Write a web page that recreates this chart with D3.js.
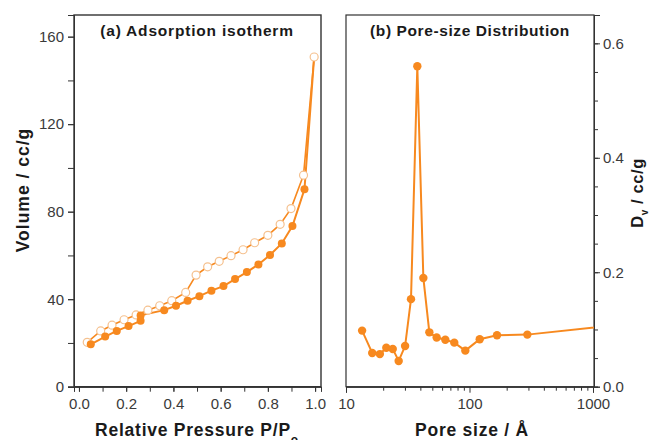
<!DOCTYPE html>
<html>
<head>
<meta charset="utf-8">
<script src="https://cdn.jsdelivr.net/npm/d3@7"></script>
<style>
  body { margin: 0; background: #fff; }
  svg { display: block; font-family: "Liberation Sans", Arial, sans-serif; }
</style>
</head>
<body>
<div id="chart"></div>
<script>
(function IFEE() {
    'use strict';
    var w = 649;
    var h = 440;

    // (a) adsorption branch (filled dots)
    var adsP = [0.05, 0.111, 0.16, 0.21, 0.261, 0.261, 0.361, 0.411, 0.46, 0.51, 0.561,
        0.612, 0.661, 0.711, 0.76, 0.809, 0.859, 0.904, 0.955, 0.996];
    var adsV = [19.4, 22.9, 25.5, 27.7, 30.1, 32.6, 35.0, 37.0, 39.3, 41.4, 43.9,
        46.0, 49.2, 52.4, 55.9, 60.2, 65.5, 73.4, 90.2, 150.7];

    // (a) desorption branch (open circles)
    var desP = [0.035, 0.092, 0.14, 0.191, 0.242, 0.292, 0.342, 0.393, 0.452, 0.496,
        0.545, 0.594, 0.644, 0.695, 0.744, 0.80, 0.852, 0.898, 0.951, 0.996];
    var desV = [20.3, 25.5, 28.1, 30.6, 32.8, 35.0, 37.0, 39.3, 43.1, 51.0,
        54.8, 57.3, 59.9, 62.6, 65.8, 69.2, 74.2, 81.4, 96.7, 150.7];

    // (b) pore size distribution
    var poreSize = [13.5, 16.3, 18.8, 21.2, 23.9, 26.7, 30.1, 33.6, 37.8, 42.3, 47.3,
        54.2, 63.7, 75.3, 92.5, 121, 167, 294, 1580];
    var poreDv = [0.098, 0.059, 0.057, 0.068, 0.066, 0.045, 0.071, 0.153, 0.560, 0.190, 0.095,
        0.086, 0.082, 0.077, 0.063, 0.083, 0.090, 0.091, 0.108];

    var xTicksA = [0, 0.2, 0.4, 0.6, 0.8, 1.0];
    var yTicksA = [0, 40, 80, 120, 160];
    var xTicksB = [10, 100, 1000];
    var yTicksB = [0, 0.2, 0.4, 0.6];

    var orange = "#f7891f";
    var pale = "#f5c18f";
    var ink = "#333333";

    function zip(xs, ys) {
        return xs.map(function (x, i) { return {x: x, y: ys[i]}; });
    }

    var svg = d3.select("#chart")
        .append("svg")
        .attr("width", w)
        .attr("height", h);

    svg.append("defs").append("clipPath").attr("id", "clipB")
        .append("rect").attr("x", 346).attr("y", 15).attr("width", 248).attr("height", 372);

    // ---------- panel (a) ----------
    var xa = d3.scaleLinear().domain([-0.021, 1.025]).range([74, 321]);
    var ya = d3.scaleLinear().domain([0, 169.9]).range([386.7, 15]);

    var ga = svg.append("g");

    ga.append("g")
        .attr("transform", "translate(0,386.7)")
        .call(d3.axisBottom(xa).tickValues(d3.range(0, 1.01, 0.1)).tickSize(5).tickFormat(""));
    ga.append("g")
        .attr("transform", "translate(0,386.7)")
        .call(d3.axisBottom(xa).tickValues(xTicksA).tickSize(5).tickPadding(7)
            .tickFormat(d3.format(".1f")));
    ga.append("g")
        .attr("transform", "translate(74,0)")
        .call(d3.axisLeft(ya).tickValues(d3.range(0, 161, 20)).tickSize(6).tickFormat(""));
    ga.append("g")
        .attr("transform", "translate(74,0)")
        .call(d3.axisLeft(ya).tickValues(yTicksA).tickSize(6).tickPadding(4));

    ga.append("rect")
        .attr("x", 74).attr("y", 15).attr("width", 247).attr("height", 371.7)
        .attr("fill", "none").attr("stroke", ink).attr("stroke-width", 1.4);

    var lineA = d3.line()
        .x(function (d) { return xa(d.x); })
        .y(function (d) { return ya(d.y); });

    ga.append("path").datum(zip(desP, desV))
        .attr("d", lineA).attr("fill", "none")
        .attr("stroke", orange).attr("stroke-width", 1.6);
    ga.append("path").datum(zip(adsP, adsV))
        .attr("d", lineA).attr("fill", "none")
        .attr("stroke", orange).attr("stroke-width", 2);

    ga.selectAll("circle.des")
        .data(zip(desP, desV))
        .enter()
        .append("circle")
        .attr("class", "des")
        .attr("cx", function (d) { return xa(d.x); })
        .attr("cy", function (d) { return ya(d.y); })
        .attr("r", 4)
        .attr("fill", "#fff")
        .attr("stroke", pale)
        .attr("stroke-width", 1.2);

    ga.selectAll("circle.ads")
        .data(zip(adsP, adsV).slice(0, -1))
        .enter()
        .append("circle")
        .attr("class", "ads")
        .attr("cx", function (d) { return xa(d.x); })
        .attr("cy", function (d) { return ya(d.y); })
        .attr("r", 4)
        .attr("fill", orange);

    ga.append("text")
        .attr("x", 197).attr("y", 36)
        .attr("text-anchor", "middle")
        .attr("font-size", "15.5px").attr("font-weight", "bold").attr("fill", "#1a1a1a")
        .attr("letter-spacing", "0.8px")
        .text("(a) Adsorption isotherm");

    var xl = ga.append("text")
        .attr("x", 197).attr("y", 436)
        .attr("text-anchor", "middle")
        .attr("font-size", "17.5px").attr("font-weight", "bold").attr("fill", "#1a1a1a")
        .attr("letter-spacing", "0.75px");
    xl.append("tspan").text("Relative Pressure P/P");
    xl.append("tspan").attr("font-size", "12px").attr("dy", 8).text("o");

    ga.append("text")
        .attr("transform", "translate(29,190) rotate(-90)")
        .attr("text-anchor", "middle")
        .attr("font-size", "17.5px").attr("font-weight", "bold").attr("fill", "#1a1a1a")
        .attr("letter-spacing", "1px")
        .text("Volume / cc/g");

    // ---------- panel (b) ----------
    var xb = d3.scaleLog().domain([10, 1000]).range([346, 593]);
    var yb = d3.scaleLinear().domain([0, 0.6495]).range([386.7, 15]);

    var gb = svg.append("g");

    var minorLog = [];
    [10, 100].forEach(function (dec) {
        for (var k = 2; k <= 9; k++) { minorLog.push(dec * k); }
    });
    gb.append("g")
        .attr("transform", "translate(0,386.7)")
        .call(d3.axisBottom(xb).tickValues(minorLog).tickSize(4).tickFormat(""));
    gb.append("g")
        .attr("transform", "translate(0,386.7)")
        .call(d3.axisBottom(xb).tickValues(xTicksB).tickSize(6).tickPadding(6)
            .tickFormat(d3.format("d")));
    gb.append("g")
        .attr("transform", "translate(594,0)")
        .call(d3.axisRight(yb).tickValues(d3.range(0, 0.61, 0.05)).tickSize(4).tickFormat(""));
    gb.append("g")
        .attr("transform", "translate(594,0)")
        .call(d3.axisRight(yb).tickValues(yTicksB).tickSize(6).tickPadding(3)
            .tickFormat(d3.format(".1f")));

    gb.append("rect")
        .attr("x", 346).attr("y", 15).attr("width", 248).attr("height", 371.7)
        .attr("fill", "none").attr("stroke", ink).attr("stroke-width", 1.2);

    var lineB = d3.line()
        .x(function (d) { return xb(d.x); })
        .y(function (d) { return yb(d.y); });

    var plotB = gb.append("g").attr("clip-path", "url(#clipB)");
    plotB.append("path").datum(zip(poreSize, poreDv))
        .attr("d", lineB).attr("fill", "none")
        .attr("stroke", orange).attr("stroke-width", 2);
    plotB.selectAll("circle")
        .data(zip(poreSize, poreDv))
        .enter()
        .append("circle")
        .attr("cx", function (d) { return xb(d.x); })
        .attr("cy", function (d) { return yb(d.y); })
        .attr("r", 4.2)
        .attr("fill", orange);

    gb.append("text")
        .attr("x", 470).attr("y", 36)
        .attr("text-anchor", "middle")
        .attr("font-size", "15.5px").attr("font-weight", "bold").attr("fill", "#1a1a1a")
        .attr("letter-spacing", "0.6px")
        .text("(b) Pore-size Distribution");

    gb.append("text")
        .attr("x", 472).attr("y", 436)
        .attr("text-anchor", "middle")
        .attr("font-size", "17.5px").attr("font-weight", "bold").attr("fill", "#1a1a1a")
        .attr("letter-spacing", "0.75px")
        .text("Pore size / Å");

    var yl = gb.append("text")
        .attr("transform", "translate(643,193) rotate(-90)")
        .attr("text-anchor", "middle")
        .attr("font-size", "16.5px").attr("font-weight", "bold").attr("fill", "#1a1a1a")
        .attr("letter-spacing", "0.6px");
    yl.append("tspan").text("D");
    yl.append("tspan").attr("font-size", "10px").attr("dy", 5).text("v");
    yl.append("tspan").attr("dy", -5).text(" / cc/g");

    // tick label styling
    svg.selectAll(".tick text")
        .attr("font-size", "15px")
        .attr("fill", "#3a3a3a")
        .attr("font-family", "\"Liberation Sans\", Arial, sans-serif");
    svg.selectAll(".domain").attr("stroke", ink);
    svg.selectAll(".tick line").attr("stroke", ink);
}());
</script>
</body>
</html>
